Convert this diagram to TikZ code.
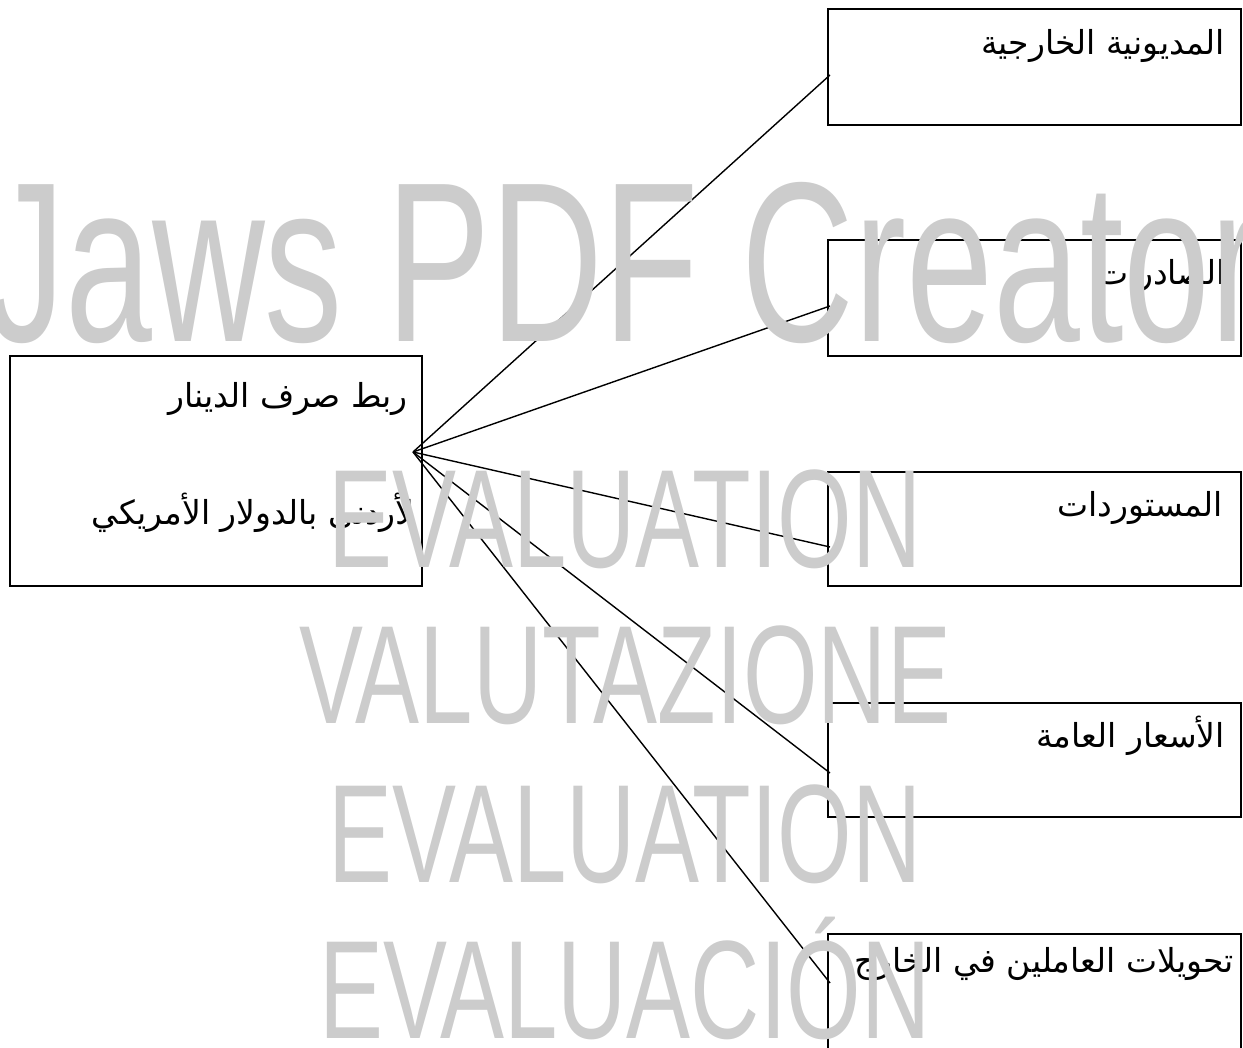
\documentclass[tikz,border=0pt]{standalone}
\usepackage{fontspec}
\usepackage{graphicx}
\newfontfamily\arabicfont[Script=Arabic]{DejaVu Sans}
\newfontfamily\wmfont{Liberation Sans}
\TeXXeTstate=1
\usetikzlibrary{positioning}
\definecolor{wmgray}{HTML}{CCCCCC}
\tikzset{
  box/.style={draw, line width=2pt, minimum width=413pt, minimum height=116pt, anchor=north west, inner sep=0pt},
  artext/.style={font=\arabicfont\fontsize{33}{40}\selectfont, anchor=base east, inner sep=0pt},
  link/.style={line width=1.4pt},
  wm/.style={text=wmgray, anchor=base, inner sep=0pt},
}

\begin{document}
\begin{tikzpicture}[x=1pt,y=-1pt]
\useasboundingbox (0,0) rectangle (1243,1048);
% boxes
\node[box, minimum width=412pt, minimum height=230pt] (peg) at (9,355) {};
\node[box] (debt) at (827,8) {};
\node[box] (exports) at (827,239) {};
\node[box, minimum height=114pt] (imports) at (827,471) {};
\node[box, minimum height=114pt] (prices) at (827,702) {};
\node[box, minimum height=130pt] (remit) at (827,933) {};
% texts
\node[artext] (pegA) at (408,408) {\beginR ربط صرف الدينار\endR};
\node[artext] (pegB) at (415,525) {\beginR لأردني  بالدولار  الأمريكي\endR};
\node[artext] (debtT) at (1225,55) {\beginR المديونية الخارجية\endR};
\node[artext] (exportsT) at (1226,285) {\beginR الصادرات\endR};
\node[artext] (importsT) at (1223,517) {\beginR المستوردات\endR};
\node[artext] (pricesT) at (1225,747) {\beginR الأسعار العامة\endR};
\node[artext] (remitT) at (1234,972) {\beginR تحويلات العاملين في الخارج\endR};
% connectors
\coordinate (hub) at (413,452);
\coordinate (toDebt) at (830,75);
\coordinate (toExports) at (830,306);
\coordinate (toImports) at (830,547);
\coordinate (toPrices) at (830,773);
\coordinate (toRemit) at (830,983);
\draw[link] (hub) -- (toDebt);
\draw[link] (hub) -- (toExports);
\draw[link] (hub) -- (toImports);
\draw[link] (hub) -- (toPrices);
\draw[link] (hub) -- (toRemit);
% watermark
\node[wm, font=\wmfont\fontsize{228}{228}\selectfont] (wmA) at (625,342) {\scalebox{0.685}[1]{Jaws PDF Creator}};
\node[wm, font=\wmfont\fontsize{140}{140}\selectfont] (wmB) at (625,567) {\scalebox{0.685}[1]{EVALUATION}};
\node[wm, font=\wmfont\fontsize{140}{140}\selectfont] (wmC) at (625,723) {\scalebox{0.685}[1]{VALUTAZIONE}};
\node[wm, font=\wmfont\fontsize{140}{140}\selectfont] (wmD) at (625,882) {\scalebox{0.685}[1]{EVALUATION}};
\node[wm, font=\wmfont\fontsize{140}{140}\selectfont] (wmE) at (625,1038) {\scalebox{0.685}[1]{EVALUACIÓN}};
\end{tikzpicture}
\end{document}
